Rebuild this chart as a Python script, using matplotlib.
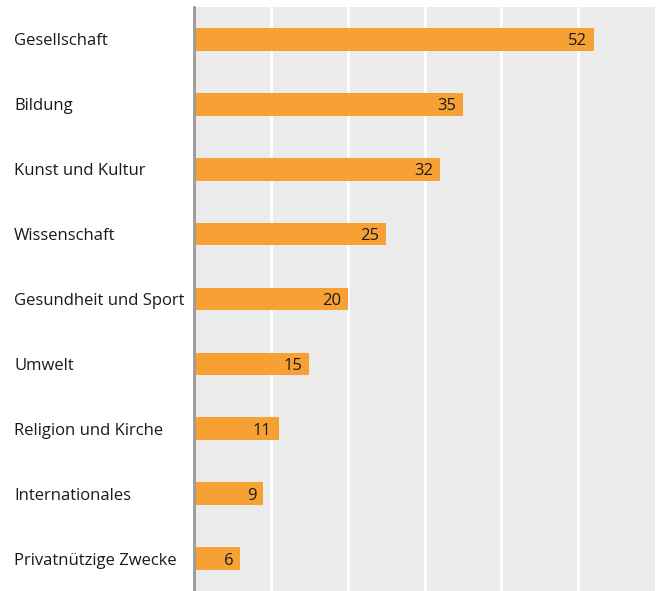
import matplotlib.pyplot as plt
import matplotlib.transforms as mtransforms

categories = ["Gesellschaft", "Bildung", "Kunst und Kultur", "Wissenschaft",
              "Gesundheit und Sport", "Umwelt", "Religion und Kirche",
              "Internationales", "Privatnützige Zwecke"]
values = [52, 35, 32, 25, 20, 15, 11, 9, 6]

plt.rcParams['font.family'] = ['Open Sans', 'DejaVu Sans']

fig = plt.figure(figsize=(6.61, 5.91), dpi=100)
ax = fig.add_axes([194 / 661, 0, 461 / 661, 1 - 7 / 591])

ypos = list(range(len(categories)))
ax.barh(ypos, values, height=0.35, color="#F7A034", zorder=3)

for y, v in zip(ypos, values):
    ax.text(v - 0.9, y, str(v), ha="right", va="center_baseline", fontsize=12, color="#1a1a1a", zorder=4)

# category labels, left aligned at the figure edge
trans = mtransforms.blended_transform_factory(fig.transFigure, ax.transData)
for y, c in zip(ypos, categories):
    ax.text(14 / 661, y, c, transform=trans, ha="left", va="center_baseline",
            fontsize=12, color="#1a1a1a", clip_on=False)

ax.set_xlim(0, 60)
ax.set_ylim(len(categories) - 0.5, -0.5)
ax.set_facecolor("#EBEBEB")
ax.set_xticks([10, 20, 30, 40, 50])
ax.set_yticks([])
ax.grid(axis="x", color="white", linewidth=2, zorder=1)
ax.tick_params(axis="x", length=0, labelbottom=False)

for s in ["top", "right", "bottom"]:
    ax.spines[s].set_visible(False)
ax.spines["left"].set_color("#999999")
ax.spines["left"].set_linewidth(2)
ax.spines["left"].set_zorder(5)

fig.savefig("out.png", dpi=100)
